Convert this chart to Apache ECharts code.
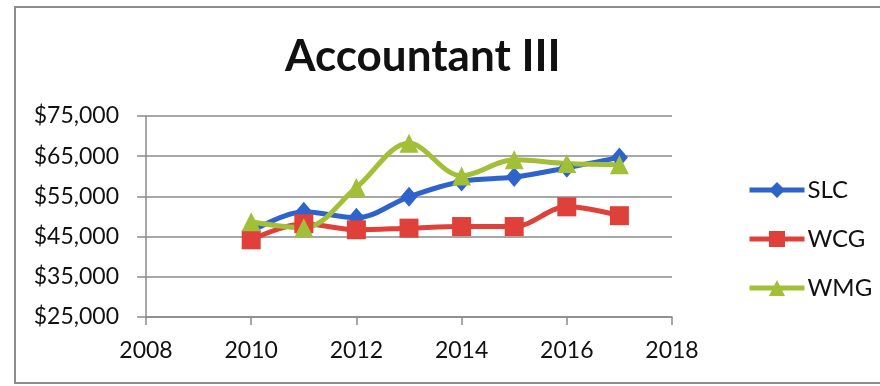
<!DOCTYPE html>
<html>
<head>
<meta charset="utf-8">
<script src="https://cdn.jsdelivr.net/npm/echarts@6/dist/echarts.min.js"></script>
<style>
  html, body { margin: 0; padding: 0; background: #ffffff; }
  #chart { width: 880px; height: 386px; }
</style>
</head>
<body>
<div id="chart"></div>
<script>
// Salary history for the Accountant III position, by organisation
const years = [2010, 2011, 2012, 2013, 2014, 2015, 2016, 2017];
const slc = [46200, 51200, 49700, 54900, 58700, 59800, 62100, 64700];
const wcg = [44200, 48200, 46700, 47100, 47500, 47500, 52400, 50200];
const wmg = [48700, 47200, 57200, 68200, 60100, 64100, 63200, 62900];
const seriesNames = ['SLC', 'WCG', 'WMG'];
const xTicks = { min: 2008, max: 2018, step: 2 };
const yTicks = { min: 25000, max: 75000, step: 10000 };

const pairs = vals => years.map((y, i) => [y, vals[i]]);
const money = v => '$' + v.toLocaleString('en-US');

const chart = echarts.init(document.getElementById('chart'), null, { renderer: 'canvas' });
const gridGray = '#8a8a8a';
const font = 'Lato, "Open Sans", sans-serif';

chart.setOption({
  animation: false,
  backgroundColor: '#ffffff',
  title: {
    text: 'Accountant III',
    left: 280,
    top: 30,
    textStyle: { fontFamily: font, fontWeight: 'bold', fontSize: 44, color: '#111111' }
  },
  legend: {
    orient: 'vertical',
    left: 742,
    top: 173,
    itemWidth: 55,
    itemHeight: 20,
    itemGap: 25,
    data: seriesNames,
    lineStyle: { width: 5 },
    textStyle: { fontFamily: font, fontSize: 24, color: '#111111', padding: [0, 0, 0, -2] }
  },
  grid: { left: 146, right: 208, top: 116, bottom: 69 },
  xAxis: {
    type: 'value',
    min: xTicks.min,
    max: xTicks.max,
    interval: xTicks.step,
    axisLine: { show: true, lineStyle: { color: gridGray, width: 1.5 } },
    axisTick: { show: true, length: 8, lineStyle: { color: gridGray, width: 1.5 } },
    splitLine: { show: false },
    axisLabel: { fontFamily: font, fontSize: 23, color: '#111111', margin: 22, formatter: v => String(v) }
  },
  yAxis: {
    type: 'value',
    min: yTicks.min,
    max: yTicks.max,
    interval: yTicks.step,
    axisLine: { show: true, lineStyle: { color: gridGray, width: 1.5 } },
    axisTick: { show: true, length: 9, lineStyle: { color: gridGray, width: 1.5 } },
    splitLine: { show: true, lineStyle: { color: gridGray, width: 1.5 } },
    axisLabel: { fontFamily: font, fontSize: 23, color: '#111111', margin: 27, formatter: money }
  },
  graphic: [{
    type: 'rect',
    shape: { x: 15, y: 7, width: 900, height: 376 },
    style: { fill: 'none', stroke: '#8c8c8c', lineWidth: 2 },
    silent: true,
    z: -1
  }],
  series: [
    {
      name: 'SLC', type: 'line', data: pairs(slc), smooth: 0.35,
      symbol: 'diamond', symbolSize: [17, 20],
      lineStyle: { color: '#2f63cc', width: 5 },
      itemStyle: { color: '#2f63cc' }
    },
    {
      name: 'WCG', type: 'line', data: pairs(wcg), smooth: 0.35,
      symbol: 'rect', symbolSize: 19,
      lineStyle: { color: '#e0403a', width: 5 },
      itemStyle: { color: '#e0403a' }
    },
    {
      name: 'WMG', type: 'line', data: pairs(wmg), smooth: 0.35,
      symbol: 'triangle', symbolSize: 19,
      lineStyle: { color: '#a2c037', width: 5 },
      itemStyle: { color: '#a2c037' }
    }
  ]
});
</script>
</body>
</html>
